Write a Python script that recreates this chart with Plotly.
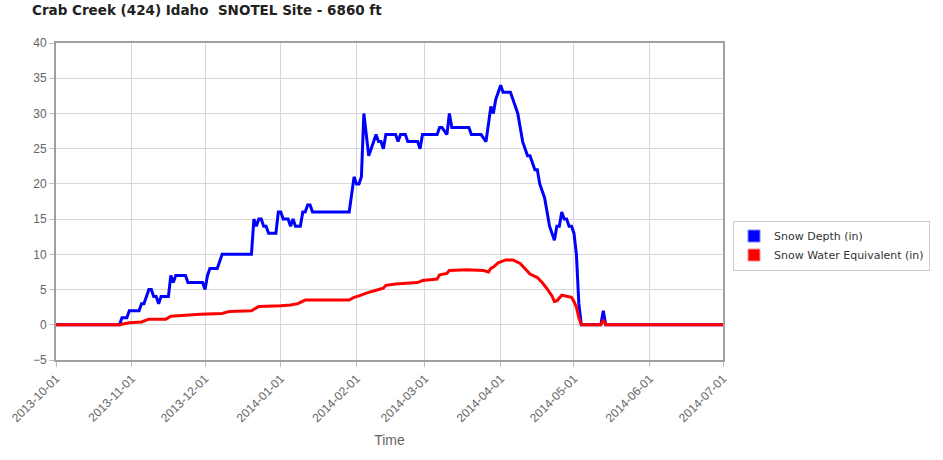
import plotly.graph_objects as go

TITLE = "Crab Creek (424) Idaho \u00a0SNOTEL Site - 6860 ft"

depth_dates = [
    "2013-10-01", "2013-10-27", "2013-10-28", "2013-10-30", "2013-10-31",
    "2013-11-04", "2013-11-05", "2013-11-06", "2013-11-08", "2013-11-09",
    "2013-11-10", "2013-11-11", "2013-11-12", "2013-11-13", "2013-11-16",
    "2013-11-17", "2013-11-18", "2013-11-19", "2013-11-23", "2013-11-24",
    "2013-11-30", "2013-12-01", "2013-12-02", "2013-12-03", "2013-12-06",
    "2013-12-08", "2013-12-20", "2013-12-21", "2013-12-22", "2013-12-23",
    "2013-12-24", "2013-12-25", "2013-12-26", "2013-12-27", "2013-12-30",
    "2013-12-31", "2014-01-01", "2014-01-02", "2014-01-04", "2014-01-05",
    "2014-01-06", "2014-01-07", "2014-01-09", "2014-01-10", "2014-01-11",
    "2014-01-12", "2014-01-13", "2014-01-14", "2014-01-29", "2014-01-31",
    "2014-02-01", "2014-02-02", "2014-02-03", "2014-02-04", "2014-02-05",
    "2014-02-06", "2014-02-07", "2014-02-08", "2014-02-09", "2014-02-10",
    "2014-02-11", "2014-02-12", "2014-02-13", "2014-02-17", "2014-02-18",
    "2014-02-19", "2014-02-21", "2014-02-22", "2014-02-26", "2014-02-27",
    "2014-02-28", "2014-03-06", "2014-03-07", "2014-03-08", "2014-03-10",
    "2014-03-11", "2014-03-12", "2014-03-19", "2014-03-20", "2014-03-24",
    "2014-03-26", "2014-03-28", "2014-03-29", "2014-03-30", "2014-03-31",
    "2014-04-01", "2014-04-02", "2014-04-05", "2014-04-06", "2014-04-07",
    "2014-04-08", "2014-04-09", "2014-04-10", "2014-04-11", "2014-04-12",
    "2014-04-13", "2014-04-14", "2014-04-15", "2014-04-16", "2014-04-17",
    "2014-04-18", "2014-04-19", "2014-04-20", "2014-04-21", "2014-04-22",
    "2014-04-23", "2014-04-24", "2014-04-25", "2014-04-26", "2014-04-27",
    "2014-04-28", "2014-04-29", "2014-04-30", "2014-05-01", "2014-05-02",
    "2014-05-03", "2014-05-04", "2014-05-12", "2014-05-13", "2014-05-14",
    "2014-07-01",
]
depth_values = [
    0, 0, 1, 1, 2,
    2, 3, 3, 5, 5,
    4, 4, 3, 4, 4,
    7, 6, 7, 7, 6,
    6, 5, 7, 8, 8,
    10, 10, 15, 14, 15,
    15, 14, 14, 13, 13,
    16, 16, 15, 15, 14,
    15, 14, 14, 16, 16,
    17, 17, 16, 16, 21,
    20, 20, 21, 30, 27,
    24, 25, 26, 27, 26,
    26, 25, 27, 27, 26,
    27, 27, 26, 26, 25,
    27, 27, 28, 28, 27,
    30, 28, 28, 27, 27,
    26, 31, 30, 32, 33,
    34, 33, 33, 32, 31,
    30, 28, 26, 25, 24,
    24, 23, 22, 22, 20,
    19, 18, 16, 14, 13,
    12, 14, 14, 16, 15,
    15, 14, 14, 13, 10,
    3, 0, 0, 2, 0,
    0,
]

swe_dates = [
    "2013-10-01", "2013-10-27", "2013-10-31", "2013-11-05", "2013-11-08",
    "2013-11-15", "2013-11-17", "2013-11-29", "2013-12-08", "2013-12-11",
    "2013-12-20", "2013-12-23", "2014-01-01", "2014-01-05", "2014-01-08",
    "2014-01-11", "2014-01-29", "2014-01-31", "2014-02-02", "2014-02-05",
    "2014-02-09", "2014-02-12", "2014-02-13", "2014-02-17", "2014-02-26",
    "2014-02-28", "2014-03-06", "2014-03-07", "2014-03-10", "2014-03-11",
    "2014-03-18", "2014-03-25", "2014-03-27", "2014-03-28", "2014-03-29",
    "2014-03-31", "2014-04-03", "2014-04-06", "2014-04-09", "2014-04-11",
    "2014-04-13", "2014-04-16", "2014-04-18", "2014-04-20", "2014-04-22",
    "2014-04-23", "2014-04-24", "2014-04-26", "2014-04-28", "2014-04-30",
    "2014-05-01", "2014-05-02", "2014-05-03", "2014-05-04", "2014-05-12",
    "2014-05-13", "2014-05-14", "2014-07-01",
]
swe_values = [
    0, 0, 0.3, 0.4, 0.8,
    0.8, 1.2, 1.5, 1.6, 1.9,
    2.0, 2.6, 2.7, 2.8, 3.0,
    3.5, 3.5, 3.9, 4.1, 4.5,
    4.9, 5.2, 5.6, 5.8, 6.0,
    6.3, 6.5, 7.1, 7.3, 7.7,
    7.8, 7.7, 7.5, 8.0, 8.2,
    8.8, 9.2, 9.2, 8.7, 7.9,
    7.2, 6.7, 6.0, 5.1, 4.1,
    3.3, 3.4, 4.2, 4.1, 3.9,
    3.3, 2.5, 1.0, 0, 0,
    0.7, 0, 0,
]

month_ticks = [
    "2013-10-01", "2013-11-01", "2013-12-01", "2014-01-01", "2014-02-01",
    "2014-03-01", "2014-04-01", "2014-05-01", "2014-06-01", "2014-07-01",
]
y_ticks = [-5, 0, 5, 10, 15, 20, 25, 30, 35, 40]

series_names = ["Snow Depth (in)", "Snow Water Equivalent (in)"]
series_colors = ["#0000FF", "#FF0000"]
legend_borders = ["#8080FF", "#FF9090"]

fig = go.Figure()
fig.add_trace(go.Scatter(
    x=depth_dates, y=depth_values, mode="lines", name=series_names[0],
    line=dict(color=series_colors[0], width=3), showlegend=False,
))
fig.add_trace(go.Scatter(
    x=swe_dates, y=swe_values, mode="lines", name=series_names[1],
    line=dict(color=series_colors[1], width=3), showlegend=False,
))
for name, col, bcol in zip(series_names, series_colors, legend_borders):
    fig.add_trace(go.Scatter(
        x=[None], y=[None], mode="markers", name=name,
        marker=dict(symbol="square", size=12, color=col,
                    line=dict(color=bcol, width=1)),
    ))

label_font = dict(family="Liberation Sans, Arial, sans-serif", size=12, color="#666666")

fig.update_layout(
    width=943, height=460,
    margin=dict(l=56, r=220, t=43, b=100, autoexpand=False),
    paper_bgcolor="white", plot_bgcolor="white",
    title=dict(
        text=TITLE, x=32 / 943, xref="container", xanchor="left",
        y=1 - 10 / 460, yref="container", yanchor="middle",
        font=dict(family="DejaVu Sans, Verdana, sans-serif", size=13.5, color="#222222", weight="bold"),
    ),
    showlegend=True,
    legend=dict(
        x=1.015, xanchor="left", y=0.44, yanchor="top",
        bgcolor="white", bordercolor="#cccccc", borderwidth=1,
        font=dict(family="DejaVu Sans, Verdana, sans-serif", size=11, color="#333333"),
        itemwidth=30,
    ),
    xaxis=dict(
        type="date",
        range=["2013-10-01", "2014-07-01"],
        tickvals=month_ticks,
        ticktext=month_ticks,
        tickangle=-45,
        tickfont=label_font,
        automargin=False,
        showgrid=True, gridcolor="#d8d8d8", gridwidth=1,
        showline=True, linecolor="#a0a0a0", linewidth=2, mirror=True,
        ticks="outside", ticklen=5, tickcolor="#c0c0c0",
        zeroline=False,
        title=dict(text="Time", font=dict(family="Liberation Sans, Arial, sans-serif",
                                           size=14, color="#666666"), standoff=11),
    ),
    yaxis=dict(
        range=[-5, 40],
        tickvals=y_ticks,
        tickfont=label_font,
        automargin=False,
        showgrid=True, gridcolor="#d8d8d8", gridwidth=1,
        showline=True, linecolor="#a0a0a0", linewidth=2, mirror=True,
        ticks="outside", ticklen=5, tickcolor="#c0c0c0",
        zeroline=False,
    ),
)

# Remove the browser's default 8px body margin so the figure sits at the page origin.
fig.write_html(
    "out.html",
    config={"displayModeBar": False},
    post_script="document.body.style.margin='0';",
)
